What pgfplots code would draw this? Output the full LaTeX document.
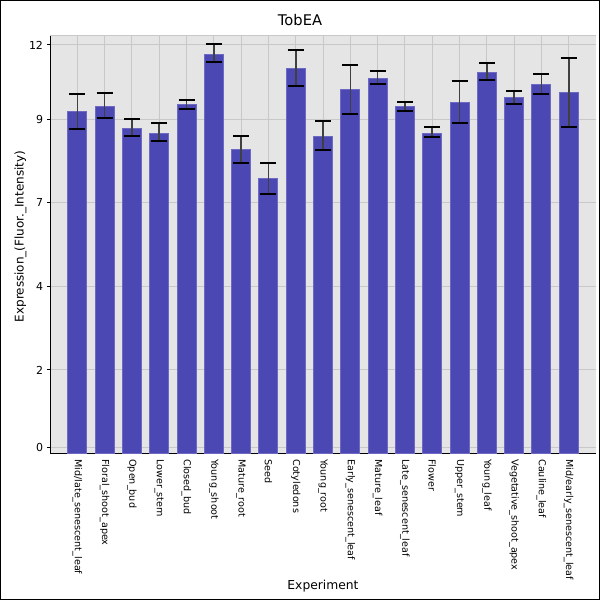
\documentclass[border=0pt]{standalone}
\usepackage{fontspec}
\setmainfont{DejaVu Sans}
\usepackage{pgfplots}
\usepackage{pgfplotstable}
\pgfplotsset{compat=1.18}
\definecolor{barfill}{RGB}{75,71,179}
\definecolor{baredge}{RGB}{110,106,196}
\definecolor{bggray}{RGB}{229,229,229}
\definecolor{gridgray}{RGB}{200,200,200}
\pgfplotstableread{
x y ep em
1 10.20 0.54 0.52
2 10.35 0.41 0.34
3 9.72 0.27 0.23
4 9.57 0.30 0.25
5 10.41 0.16 0.13
6 11.93 0.30 0.24
7 9.07 0.42 0.40
8 8.20 0.48 0.46
9 11.51 0.54 0.52
10 9.48 0.45 0.40
11 10.86 0.74 0.71
12 11.21 0.21 0.16
13 10.35 0.15 0.12
14 9.57 0.17 0.11
15 10.47 0.65 0.61
16 11.39 0.26 0.23
17 10.62 0.21 0.19
18 11.01 0.33 0.27
19 10.77 1.04 1.01
}\datatable
\begin{document}
\begin{tikzpicture}
\begin{axis}[
  scale only axis,
  width=546bp, height=417.7bp,
  xmin=0, xmax=20, ymin=0, ymax=12.468,
  axis background/.style={fill=bggray},
  axis x line*=bottom, axis y line*=left,
  axis line style={-, black, line width=1bp},
  every outer x axis line/.append style={-},
  every outer y axis line/.append style={-},
  grid=major,
  major grid style={gridgray, line width=1bp},
  xtick={1,...,19},
  xticklabels={Mid/late\_senescent\_leaf, Floral\_shoot\_apex, Open\_bud, Lower\_stem, Closed\_bud, Young\_shoot, Mature\_root, Seed, Cotyledons, Young\_root, Early\_senescent\_leaf, Mature\_leaf, Late\_senescent\_leaf, Flower, Upper\_stem, Young\_leaf, Vegetative\_shoot\_apex, Cauline\_leaf, Mid/early\_senescent\_leaf},
  ytick={0.19,2.50,4.99,7.49,9.99,12.20},
  yticklabels={0,2,4,7,9,12},
  tick align=outside,
  major tick length=2.5bp,
  xtick style={draw=none},
  ytick style={black, line width=1bp},
  xticklabel style={rotate=-90, anchor=west, inner sep=0pt, font=\fontsize{9.6bp}{11bp}\selectfont},
  xticklabel shift=3bp,
  yticklabel style={anchor=east, inner sep=0pt, font=\fontsize{11bp}{13bp}\selectfont},
  yticklabel shift=4.3bp,
  title={TobEA},
  every axis title/.style={at={(axis description cs:0.4579,1)}, anchor=base, yshift=10.3bp, inner sep=0pt, font=\fontsize{14.7bp}{17bp}\selectfont},
  xlabel={Experiment},
  xlabel style={at={(axis description cs:0.5,0)}, anchor=base, yshift=-135.6bp, inner sep=0pt, font=\fontsize{12.3bp}{14bp}\selectfont},
  ylabel={Expression\_(Fluor.\_Intensity)},
  ylabel style={at={(axis description cs:-0.0485,0.52)}, anchor=base, inner sep=0pt, font=\fontsize{12bp}{14bp}\selectfont},
  ybar, bar width=19bp,
]
\addplot[fill=barfill, draw=baredge, line width=1bp,
  error bars/.cd, y dir=both, y explicit, error mark=|,
  error bar style={line width=1.6bp, color=black!75},
  error mark options={black, line width=2bp, mark size=8bp}]
  table[x=x, y=y, y error plus=ep, y error minus=em] {\datatable};
\draw[gridgray, line width=1bp] (rel axis cs:0,1) -- (rel axis cs:1,1);
\end{axis}
\pgfresetboundingbox
\path[use as bounding box] (current axis.south west) ++(-50bp,-146.3bp) rectangle ++(600bp,600bp);
\draw[black, line width=1bp] (current axis.south west) ++(-49.5bp,-145.8bp) rectangle ++(599bp,599bp);
\end{tikzpicture}
\end{document}
